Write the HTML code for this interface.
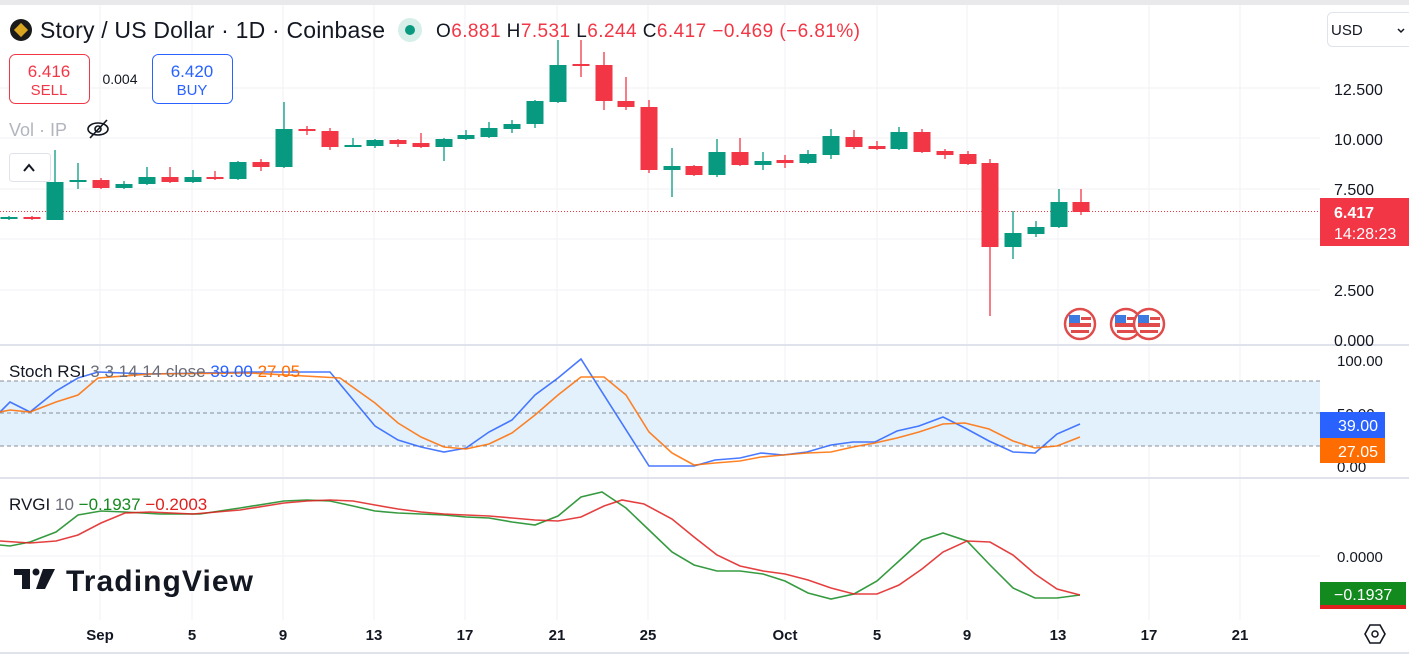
<!DOCTYPE html>
<html><head><meta charset="utf-8"><style>
body{margin:0;width:1409px;height:667px;overflow:hidden;background:#fff;font-family:"Liberation Sans",sans-serif}
svg{position:absolute;left:0;top:0}
.t{font-family:"Liberation Sans",sans-serif}
</style></head><body>
<svg id="s" width="1409" height="667" viewBox="0 0 1409 667">
<rect x="0" y="0" width="1409" height="5" fill="#e9e9ec"/>
<g id="grid" stroke="#f2f2f4" stroke-width="1"></g>
<rect x="0" y="381" width="1320" height="65" fill="#e3f1fd"/>
<g stroke="#8a8f99" stroke-dasharray="4,3" stroke-width="1">
<line x1="0" y1="381" x2="1320" y2="381"/><line x1="0" y1="413" x2="1320" y2="413"/><line x1="0" y1="446" x2="1320" y2="446"/></g>
<line x1="0" y1="345" x2="1409" y2="345" stroke="#e0e3eb" stroke-width="2"/>
<line x1="0" y1="478" x2="1409" y2="478" stroke="#e0e3eb" stroke-width="2"/>
<line x1="0" y1="653" x2="1409" y2="653" stroke="#e0e3eb" stroke-width="2"/>
<line x1="0" y1="211.5" x2="1320" y2="211.5" stroke="#f23645" stroke-width="1" stroke-dasharray="1,2"/>
<g id="candles"></g>
<polyline id="k" fill="none" stroke="#2962ff" stroke-width="1.6" opacity=".85"/>
<polyline id="d" fill="none" stroke="#ff6d00" stroke-width="1.6" opacity=".85"/>
<polyline id="g" fill="none" stroke="#138a1e" stroke-width="1.6" opacity=".85"/>
<polyline id="r" fill="none" stroke="#e01f1f" stroke-width="1.6" opacity=".85"/>
<!-- header -->
<circle cx="21" cy="30" r="11" fill="#1a1a1a"/><rect x="16" y="25" width="10" height="10" fill="#d9a521" transform="rotate(45 21 30)"/>
<text class="t" x="40" y="38" font-size="23" fill="#131722" textLength="345">Story / US Dollar · 1D · Coinbase</text>
<circle cx="410" cy="30" r="12" fill="#d6efe9"/><circle cx="410" cy="30" r="5" fill="#089981"/>
<text class="t" x="436" y="37" font-size="19" fill="#131722" textLength="424">O<tspan fill="#f23645">6.881</tspan>  H<tspan fill="#f23645">7.531</tspan>  L<tspan fill="#f23645">6.244</tspan>  C<tspan fill="#f23645">6.417 −0.469 (−6.81%)</tspan></text>
<rect x="9.5" y="54.5" width="80" height="49" rx="6" fill="#fff" stroke="#f23645"/>
<text class="t" x="49" y="77" font-size="17" fill="#f23645" text-anchor="middle">6.416</text>
<text class="t" x="49" y="95" font-size="15" fill="#f23645" text-anchor="middle">SELL</text>
<text class="t" x="120" y="84" font-size="14" fill="#131722" text-anchor="middle">0.004</text>
<rect x="152.5" y="54.5" width="80" height="49" rx="6" fill="#fff" stroke="#2962ff"/>
<text class="t" x="192" y="77" font-size="17" fill="#2962ff" text-anchor="middle">6.420</text>
<text class="t" x="192" y="95" font-size="15" fill="#2962ff" text-anchor="middle">BUY</text>
<text class="t" x="9" y="136" font-size="18" fill="#b2b5be">Vol · IP</text>
<g fill="none" stroke="#131722" stroke-width="1.6"><ellipse cx="98" cy="129" rx="10" ry="6"/><circle cx="98" cy="129" r="3"/><line x1="90" y1="138" x2="107" y2="120"/></g>
<rect x="9.5" y="153.5" width="41" height="28" rx="3" fill="#fff" stroke="#e0e3eb"/>
<polyline points="24,171 29,165 34,171" fill="none" stroke="#131722" stroke-width="2"/>
<!-- right axis -->
<rect x="1327.5" y="12.5" width="90" height="34" rx="5" fill="#fff" stroke="#e0e3eb"/>
<text class="t" x="1331" y="35" font-size="15" fill="#131722">USD</text>
<polyline points="1398,29 1401,32 1404,29" fill="none" stroke="#131722" stroke-width="1.5"/>
<g class="t" font-size="16" fill="#131722">
<text x="1334" y="95">12.500</text><text x="1334" y="145">10.000</text><text x="1334" y="195">7.500</text>
<text x="1334" y="296">2.500</text><text x="1334" y="346">0.000</text>
<text x="1337" y="366" font-size="15">100.00</text><text x="1337" y="419" font-size="15">50.00</text><text x="1337" y="472" font-size="15">0.00</text>
<text x="1337" y="562" font-size="15">0.0000</text>
</g>
<rect x="1320" y="198" width="89" height="48" fill="#f23645"/>
<text class="t" x="1334" y="218" font-size="16" fill="#fff" font-weight="bold">6.417</text>
<text class="t" x="1334" y="239" font-size="16" fill="#fff">14:28:23</text>
<rect x="1320" y="412" width="65" height="26" fill="#2962ff"/>
<text class="t" x="1338" y="431" font-size="16" fill="#fff">39.00</text>
<rect x="1320" y="438" width="65" height="25" fill="#ff6d00"/>
<text class="t" x="1338" y="457" font-size="16" fill="#fff">27.05</text>
<rect x="1320" y="582" width="86" height="23" fill="#138a1e"/>
<rect x="1320" y="605" width="86" height="4" fill="#e01f1f"/>
<text class="t" x="1334" y="600" font-size="16" fill="#fff">−0.1937</text>
<g id="flags"></g>
<text class="t" x="9" y="377" font-size="17" fill="#131722">Stoch RSI <tspan fill="#6a6d78">3 3 14 14 close</tspan>  <tspan fill="#2962ff">39.00</tspan> <tspan fill="#ff6d00">27.05</tspan></text>
<text class="t" x="9" y="510" font-size="17" fill="#131722">RVGI <tspan fill="#6a6d78">10</tspan>  <tspan fill="#138a1e">−0.1937</tspan>  <tspan fill="#e01f1f">−0.2003</tspan></text>
<g fill="#131722"><rect x="14" y="569" width="16" height="6"/><rect x="22" y="569" width="8" height="20"/><circle cx="36" cy="572" r="3.5"/><polygon points="43,569 55,569 45,589 36,589"/></g>
<text class="t" x="66" y="591" font-size="30" font-weight="bold" fill="#131722" textLength="187">TradingView</text>
<g class="t" font-size="15" fill="#131722" text-anchor="middle" font-weight="bold">
<text x="100" y="640">Sep</text><text x="192" y="640">5</text><text x="283" y="640">9</text><text x="374" y="640">13</text><text x="465" y="640">17</text><text x="557" y="640">21</text><text x="648" y="640">25</text><text x="785" y="640">Oct</text><text x="877" y="640">5</text><text x="967" y="640">9</text><text x="1058" y="640">13</text><text x="1149" y="640">17</text><text x="1240" y="640">21</text>
</g>
<polygon points="1365,634 1370,625 1380,625 1385,634 1380,643 1370,643" fill="none" stroke="#131722" stroke-width="1.6"/><circle cx="1375" cy="634" r="3" fill="none" stroke="#131722" stroke-width="1.5"/>
</svg>
<script>
var NS="http://www.w3.org/2000/svg";
function el(p,n,a){var e=document.createElementNS(NS,n);for(var k in a)e.setAttribute(k,a[k]);p.appendChild(e);return e;}
var grid=document.getElementById('grid');
[100,192,283,374,465,557,648,785,877,967,1058,1149,1240].forEach(function(x){el(grid,'line',{x1:x,y1:5,x2:x,y2:620});});
[88,138,189,239,290].forEach(function(y){el(grid,'line',{x1:0,y1:y,x2:1320,y2:y});});
el(grid,'line',{x1:0,y1:556,x2:1320,y2:556});
var C=[[9,217,219,216,220,1],[32,217,219,216,220,0],[55,182,220,150,220,1],[78,180,182,163,189,1],[101,180,188,178,189,0],[124,184,188,181,189,1],[147,177,184,167,185,1],[170,177,182,167,183,0],[193,177,182,170,183,1],[215,177,179,171,180,0],[238,162,179,161,180,1],[261,162,167,159,171,0],[284,129,167,102,168,1],[307,129,131,126,135,0],[330,131,147,128,150,0],[353,145,147,138,147,1],[375,140,146,139,148,1],[398,140,144,139,147,0],[421,143,147,133,148,0],[444,139,147,138,161,1],[466,135,139,130,140,1],[489,128,137,122,138,1],[512,124,129,120,133,1],[535,101,124,100,128,1],[558,65,102,40,103,1],[581,64,66,40,77,0],[604,65,101,52,110,0],[626,101,107,77,110,0],[649,107,170,100,173,0],[672,166,170,148,197,1],[694,166,175,165,176,0],[717,152,175,139,177,1],[740,152,165,138,166,0],[763,161,165,152,170,1],[785,160,163,155,168,0],[808,154,163,150,164,1],[831,136,155,129,159,1],[854,137,147,130,149,0],[877,146,149,141,150,0],[899,132,149,127,150,1],[922,132,152,129,153,0],[945,151,155,149,159,0],[968,154,164,151,165,0],[990,163,247,159,316,0],[1013,233,247,211,259,1],[1036,227,234,221,237,1],[1059,202,227,189,228,1],[1081,202,212,189,215,0]];
var cg=document.getElementById('candles');
C.forEach(function(c){var col=c[5]?'#089981':'#f23645';
el(cg,'line',{x1:c[0],y1:c[3],x2:c[0],y2:c[4],stroke:col,'stroke-width':1.3});
el(cg,'rect',{x:c[0]-8.5,y:c[1],width:17,height:Math.max(2,c[2]-c[1]),fill:col});});
function pl(id,p){document.getElementById(id).setAttribute('points',p);}
pl('k',"0,412 10,402 30,412 56,391 78,378 98,372 150,374 200,373 250,372 290,372 330,372 355,402 375,426 398,440 421,447 444,452 466,448 489,432 512,420 535,395 558,378 581,359 649,466 694,466 715,460 740,458 761,453 783,455 807,452 831,445 853,442 875,442 897,431 919,426 943,417 965,428 989,441 1013,452 1035,453 1057,434 1080,424");
pl('d',"0,412 10,410 30,412 56,402 78,395 98,378 150,374 250,373 340,378 375,403 398,423 421,437 444,447 466,449 489,444 512,433 535,415 558,395 581,377 604,377 626,395 649,432 672,453 694,465 715,463 740,461 761,457 783,455 807,453 831,452 853,447 875,443 897,438 919,432 943,424 965,423 989,429 1013,441 1035,448 1057,446 1080,437");
pl('g',"0,545 10,546 30,542 56,532 78,515 101,511 125,512 160,514 200,514 240,508 284,501 307,500 330,501 353,506 375,511 398,513 421,514 444,515 466,517 489,518 512,522 535,525 558,516 581,497 602,492 626,508 649,530 672,552 694,565 717,571 740,571 763,574 785,581 808,593 831,599 854,594 877,581 899,561 922,540 943,533 967,541 990,565 1013,588 1035,598 1057,598 1080,595");
pl('r',"0,541 30,543 56,541 78,535 101,523 125,513 150,512 193,514 240,510 284,503 307,501 330,500 353,501 375,505 398,509 421,512 444,514 466,515 489,516 512,518 535,520 558,521 581,517 604,506 622,500 644,504 672,519 694,537 717,555 740,566 763,571 785,574 808,580 831,588 854,594 877,594 899,585 922,569 943,552 967,541 990,542 1013,555 1035,574 1057,589 1080,595");
var fg=document.getElementById('flags');
[1080,1126,1149].forEach(function(x){var y=324;
el(fg,'circle',{cx:x,cy:y,r:15,fill:'#fff',stroke:'#e04b4b','stroke-width':2.5});
el(fg,'rect',{x:x-11,y:y-1,width:22,height:4,fill:'#e04b4b'});
el(fg,'rect',{x:x-9,y:y+6,width:18,height:3,fill:'#e04b4b'});
el(fg,'rect',{x:x-11,y:y-9,width:11,height:8,fill:'#3d7be0'});
el(fg,'rect',{x:x+1,y:y-7,width:10,height:3,fill:'#e04b4b'});});
</script>
</body></html>
